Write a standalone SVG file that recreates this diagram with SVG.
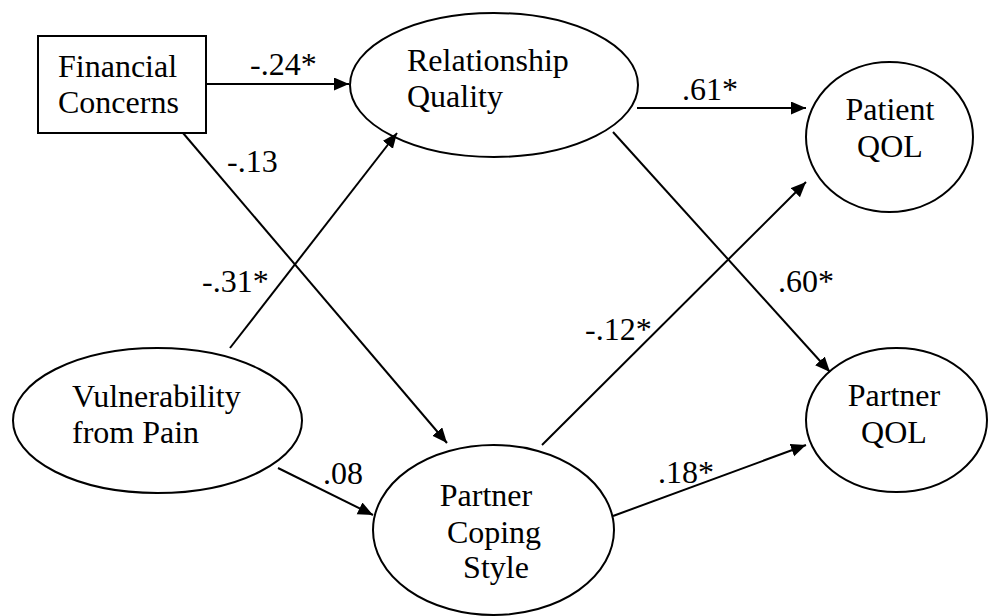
<svg xmlns="http://www.w3.org/2000/svg" width="989" height="616" viewBox="0 0 989 616">
<defs>
<marker id="ah" markerUnits="userSpaceOnUse" markerWidth="16" markerHeight="14" refX="15" refY="6.5" orient="auto">
<path d="M0,0 L15,6.5 L0,13 Z" fill="#000"/>
</marker>
<style>
text{font-family:"Liberation Serif","Times New Roman",serif;font-size:32px;fill:#000}
.n{fill:#fff;stroke:#000;stroke-width:2}
.c line{stroke:#000;stroke-width:2}
.a{marker-end:url(#ah)}
.m{text-anchor:middle}
</style>
</defs>
<rect width="989" height="616" fill="#fff"/>
<g id="financial">
<rect class="n" x="38" y="36" width="168" height="97"/>
<text x="58" y="77">Financial</text>
<text x="58" y="113">Concerns</text>
</g>
<g id="relationship">
<ellipse class="n" cx="494" cy="85" rx="144" ry="72"/>
<text x="407" y="71">Relationship</text>
<text x="407" y="107">Quality</text>
</g>
<g id="patientqol">
<ellipse class="n" cx="889.5" cy="137" rx="83.5" ry="75"/>
<text class="m" x="890" y="120">Patient</text>
<text class="m" x="890" y="157">QOL</text>
</g>
<g id="vulnerability">
<ellipse class="n" cx="157.5" cy="420.5" rx="144.5" ry="72.5"/>
<text x="72" y="407">Vulnerability</text>
<text x="72" y="443">from Pain</text>
</g>
<g id="partnercoping">
<ellipse class="n" cx="493.5" cy="530" rx="120.5" ry="85"/>
<text class="m" x="486" y="506">Partner</text>
<text class="m" x="494" y="543">Coping</text>
<text class="m" x="496" y="578">Style</text>
</g>
<g id="partnerqol">
<ellipse class="n" cx="896.5" cy="420" rx="90.5" ry="72"/>
<text class="m" x="894" y="406">Partner</text>
<text class="m" x="894" y="443">QOL</text>
</g>
<g id="connectors" class="c">
<line class="a" x1="206" y1="84" x2="349" y2="84"/>
<line class="a" x1="637" y1="108" x2="806" y2="108"/>
<line class="a" x1="183" y1="133" x2="447" y2="443"/>
<line class="a" x1="230" y1="348" x2="397" y2="133"/>
<line class="a" x1="613" y1="132" x2="830" y2="372"/>
<line class="a" x1="542" y1="445" x2="806" y2="182"/>
<line class="a" x1="613" y1="516" x2="806" y2="445"/>
<line class="a" x1="278" y1="468" x2="373" y2="515"/>
</g>
<g id="labels">
<text x="250" y="75">-.24*</text>
<text x="682" y="100">.61*</text>
<text x="227" y="172">-.13</text>
<text x="202" y="292">-.31*</text>
<text x="778" y="292">.60*</text>
<text x="585" y="340">-.12*</text>
<text x="658" y="483">.18*</text>
<text x="323" y="484">.08</text>
</g>
</svg>
